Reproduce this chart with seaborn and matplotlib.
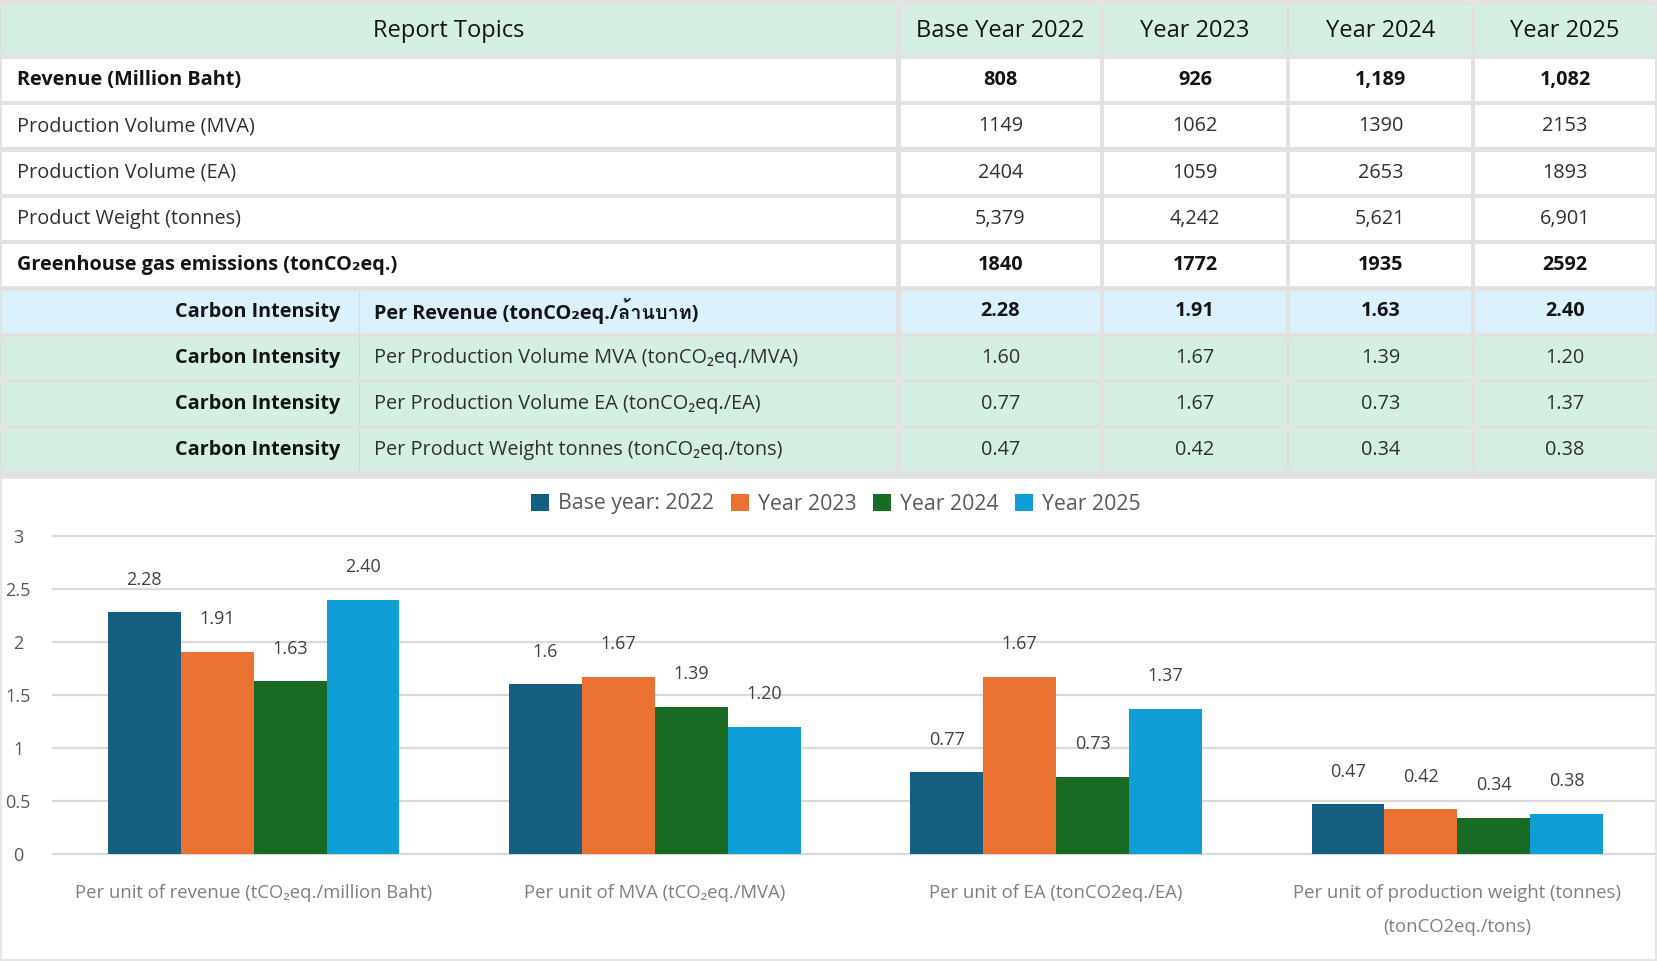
import numpy as np
import pandas as pd
import matplotlib
matplotlib.use("Agg")
import matplotlib.pyplot as plt
from matplotlib.patches import Rectangle, Patch
from matplotlib import font_manager as fm
import seaborn as sns

# ---------------- data ----------------
years = ["Base Year 2022", "Year 2023", "Year 2024", "Year 2025"]
legend_labels = ["Base year: 2022", "Year 2023", "Year 2024", "Year 2025"]

row_labels = ["Revenue (Million Baht)", "Production Volume (MVA)",
              "Production Volume (EA)", "Product Weight (tonnes)",
              "Greenhouse gas emissions (tonCO\u2082eq.)"]
revenue = ["808", "926", "1,189", "1,082"]
prod_mva = ["1149", "1062", "1390", "2153"]
prod_ea = ["2404", "1059", "2653", "1893"]
weight = ["5,379", "4,242", "5,621", "6,901"]
ghg = ["1840", "1772", "1935", "2592"]

ci_label = "Carbon Intensity"
ci_topics = ["Per Revenue (tonCO\u2082eq./ล้านบาท)",
             "Per Production Volume MVA (tonCO\u2082eq./MVA)",
             "Per Production Volume EA (tonCO\u2082eq./EA)",
             "Per Product Weight tonnes (tonCO\u2082eq./tons)"]
ci_revenue = [2.28, 1.91, 1.63, 2.40]
ci_mva = [1.60, 1.67, 1.39, 1.20]
ci_ea = [0.77, 1.67, 0.73, 1.37]
ci_weight = [0.47, 0.42, 0.34, 0.38]

chart_categories = ["Per unit of revenue (tCO\u2082eq./million Baht)",
                    "Per unit of MVA (tCO\u2082eq./MVA)",
                    "Per unit of EA (tonCO2eq./EA)",
                    "Per unit of production weight (tonnes)\n(tonCO2eq./tons)"]
bar_label_text = [["2.28", "1.91", "1.63", "2.40"],
                  ["1.6", "1.67", "1.39", "1.20"],
                  ["0.77", "1.67", "0.73", "1.37"],
                  ["0.47", "0.42", "0.34", "0.38"]]
colors = ["#156082", "#E97132", "#196B24", "#0F9ED5"]

# ---------------- fonts ----------------
sns.set_style("white")


def _w(v):
    if isinstance(v, str):
        return fm.weight_dict.get(v, 400)
    return v


def pick_base():
    for name in ["Noto Sans", "Open Sans", "Lato", "Roboto", "Liberation Sans"]:
        ws = [_w(f.weight) for f in fm.fontManager.ttflist if f.name == name]
        if ws and max(ws) >= 600 and min(ws) <= 450:
            return name
    return "DejaVu Sans"


BASE = pick_base()
plt.rcParams["font.family"] = [BASE, "DejaVu Sans"]


def find_font_with(chars):
    try:
        from fontTools.ttLib import TTFont
    except Exception:
        return None
    seen = set()
    for fe in fm.fontManager.ttflist:
        if fe.fname in seen:
            continue
        seen.add(fe.fname)
        try:
            f = TTFont(fe.fname, fontNumber=0, lazy=True)
            cmap = f.getBestCmap()
            if all(ord(c) in cmap for c in chars):
                return fe.name
        except Exception:
            continue
    return None


thai_family = find_font_with("ล้านบาท")
thai_fam_list = [BASE] + ([thai_family] if thai_family else []) + ["DejaVu Sans"]

W, H = 1658, 961
fig = plt.figure(figsize=(W / 100, H / 100), dpi=100)
fig.patch.set_facecolor("white")

# ---------------- table ----------------
TB = 478
tax = fig.add_axes([0, 1 - TB / H, 1, TB / H])
tax.set_xlim(0, W)
tax.set_ylim(TB, 0)
tax.axis("off")
GRAY = "#e2e2e2"
GREEN = "#d5efe3"
BLUE = "#dbf1fb"
tax.add_patch(Rectangle((0, 0), W, TB, color=GRAY, lw=0))

cols = [(2, 896), (901, 1100), (1104, 1286), (1290, 1471), (1475, 1655)]
DARK = "#141414"
REG = "#303030"
FS = 14.3

# header
for ci, (x0, x1) in enumerate(cols):
    tax.add_patch(Rectangle((x0, 5), x1 - x0, 50, color=GREEN, lw=0))
    txt = "Report Topics" if ci == 0 else years[ci - 1]
    tax.text((x0 + x1) / 2, 31, txt, ha="center", va="center",
             fontsize=17, color=DARK)

table_rows = [revenue, prod_mva, prod_ea, weight, ghg]
bold_rows = [True, False, False, False, True]
for r in range(9):
    top = 59 + r * 46.3
    h = 42
    cy = top + h / 2
    if r < 5:
        fill = "white"
    elif r == 5:
        fill = BLUE
    else:
        fill = GREEN
    for ci, (x0, x1) in enumerate(cols):
        tax.add_patch(Rectangle((x0, top), x1 - x0, h, color=fill, lw=0))
    if r < 5:
        b = bold_rows[r]
        tax.text(17, cy, row_labels[r], ha="left", va="center", fontsize=FS,
                 fontweight="bold" if b else "normal", color=DARK if b else REG)
        for ci in range(4):
            x0, x1 = cols[ci + 1]
            tax.text((x0 + x1) / 2, cy, table_rows[r][ci], ha="center", va="center",
                     fontsize=FS, fontweight="bold" if b else "normal",
                     color=DARK if b else REG)
    else:
        k = r - 5
        vals = [ci_revenue, ci_mva, ci_ea, ci_weight][k]
        b = (k == 0)
        tax.plot([359, 359], [top, top + h], color="#c9e3d6" if k else "#c8e2ee", lw=1)
        tax.text(340, cy, ci_label, ha="right", va="center", fontsize=FS,
                 fontweight="bold", color=DARK)
        tax.text(374, cy, ci_topics[k], ha="left", va="center", fontsize=FS,
                 fontweight="bold" if b else "normal", color=DARK if b else REG,
                 family=thai_fam_list)
        for ci in range(4):
            x0, x1 = cols[ci + 1]
            tax.text((x0 + x1) / 2, cy, f"{vals[ci]:.2f}", ha="center", va="center",
                     fontsize=FS, fontweight="bold" if b else "normal",
                     color=DARK if b else REG)

# ---------------- bar chart ----------------
values = ci_revenue + ci_mva + ci_ea + ci_weight
df = pd.DataFrame({
    "category": np.repeat(chart_categories, 4),
    "year": legend_labels * 4,
    "value": values,
})

ax = fig.add_axes([53 / W, 1 - 854 / H, (W - 53) / W, (854 - 536) / H])
sns.barplot(data=df, x="category", y="value", hue="year", order=chart_categories,
            hue_order=legend_labels, palette=colors, width=0.727, gap=0,
            saturation=1, errorbar=None, linewidth=0, legend=False, ax=ax)

ax.set_xlim(-0.5, 3.5)
ax.set_ylim(0, 3)
ax.set_yticks([0, 0.5, 1, 1.5, 2, 2.5, 3])
ax.set_yticklabels(["0", "0.5", "1", "1.5", "2", "2.5", "3"])
ax.set_xlabel("")
ax.set_ylabel("")
for s in ax.spines.values():
    s.set_visible(False)
ax.set_axisbelow(True)
ax.yaxis.grid(True, color="#d9d9d9", lw=1.6)
ax.xaxis.grid(False)
for gl in ax.get_ygridlines():
    gl.set_clip_on(False)
ax.tick_params(axis="y", length=0, pad=25, labelsize=13, labelcolor="#595959")
ax.tick_params(axis="x", length=0, pad=21.5, labelsize=13.3, labelcolor="#7f7f7f")
for lab in ax.get_yticklabels():
    lab.set_horizontalalignment("center")
for lab in ax.get_xticklabels():
    lab.set_linespacing(2.15)

for i, cont in enumerate(ax.containers):
    for j, bar in enumerate(cont):
        ax.annotate(bar_label_text[j][i],
                    (bar.get_x() + bar.get_width() / 2, bar.get_height()),
                    xytext=(0, 23.5), textcoords="offset points",
                    ha="center", va="center", fontsize=13, color="#404040")

handles = [Patch(facecolor=c, edgecolor="none") for c in colors]
fig.legend(handles, legend_labels, loc="center",
           bbox_to_anchor=(836 / W, 1 - 504 / H), ncol=4, frameon=False,
           handlelength=0.85, handleheight=0.85, handletextpad=0.4,
           columnspacing=0.8, fontsize=15.3, labelcolor="#595959")

# chart border
fig.add_artist(Rectangle((1 / W, 1 / H), (W - 3) / W, (H - TB - 1) / H,
                         transform=fig.transFigure, fill=False,
                         edgecolor="#e6e6e6", lw=1.5))

fig.savefig("out.png", dpi=100, facecolor="white")
